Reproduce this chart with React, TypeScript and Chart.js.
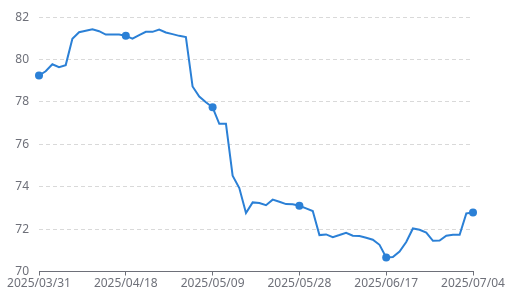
import React, { useEffect, useRef } from "react";
import { Chart, registerables } from "chart.js";

Chart.register(...registerables);

const dates: string[] = [
  "2025/03/31", "2025/04/01", "2025/04/02", "2025/04/03", "2025/04/07", "2025/04/08", "2025/04/09",
  "2025/04/10", "2025/04/11", "2025/04/14", "2025/04/15", "2025/04/16", "2025/04/17", "2025/04/18",
  "2025/04/21", "2025/04/22", "2025/04/23", "2025/04/24", "2025/04/25", "2025/04/28", "2025/04/29",
  "2025/04/30", "2025/05/05", "2025/05/06", "2025/05/07", "2025/05/08", "2025/05/09",
  "2025/05/12", "2025/05/13", "2025/05/14", "2025/05/15", "2025/05/16", "2025/05/19", "2025/05/20",
  "2025/05/21", "2025/05/22", "2025/05/23", "2025/05/26", "2025/05/27", "2025/05/28",
  "2025/05/29", "2025/05/30", "2025/06/03", "2025/06/04", "2025/06/05", "2025/06/06", "2025/06/09",
  "2025/06/10", "2025/06/11", "2025/06/12", "2025/06/13", "2025/06/16", "2025/06/17",
  "2025/06/18", "2025/06/19", "2025/06/20", "2025/06/23", "2025/06/24", "2025/06/25", "2025/06/26",
  "2025/06/27", "2025/06/30", "2025/07/01", "2025/07/02", "2025/07/03", "2025/07/04",
];

const values: number[] = [
  79.25, 79.45, 79.78, 79.64, 79.74, 80.98, 81.29, 81.36, 81.43, 81.34, 81.18, 81.18, 81.18, 81.12,
  80.99, 81.15, 81.31, 81.31, 81.42, 81.28, 81.2, 81.12, 81.06, 78.73, 78.26, 77.99, 77.75,
  76.97, 76.97, 74.52, 73.94, 72.76, 73.26, 73.23, 73.13, 73.39, 73.29, 73.18, 73.17, 73.1,
  72.98, 72.85, 71.72, 71.75, 71.62, 71.72, 71.83, 71.69, 71.67, 71.59, 71.5, 71.26, 70.66,
  70.68, 70.94, 71.39, 72.03, 71.97, 71.84, 71.45, 71.46, 71.69, 71.73, 71.73, 72.74, 72.79,
];

const yTicks: number[] = [70, 72, 74, 76, 78, 80, 82];
const labelEvery = 13;

const LINE = "#2b80d6";
const TEXT = "#6e7079";
const GRID = "#d9d9d9";

export default function App() {
  const ref = useRef<HTMLCanvasElement | null>(null);
  useEffect(() => {
    if (!ref.current) return;
    const chart = new Chart(ref.current, {
      type: "line",
      data: {
        labels: dates,
        datasets: [
          {
            data: values,
            borderColor: LINE,
            backgroundColor: LINE,
            borderWidth: 2,
            tension: 0,
            pointRadius: values.map((_, i) => (i % labelEvery === 0 ? 4 : 0)),
            pointHoverRadius: 4,
            pointBorderWidth: 0,
          },
        ],
      },
      options: {
        animation: false,
        responsive: false,
        maintainAspectRatio: false,
        layout: { padding: { left: 0, right: 41, top: 17, bottom: 0 } },
        plugins: { legend: { display: false }, tooltip: { enabled: false } },
        scales: {
          x: {
            type: "category",
            offset: false,
            afterFit: (s: any) => {
              s.height = 27.5;
            },
            border: { display: true, color: TEXT, width: 1 },
            grid: {
              display: true,
              drawOnChartArea: false,
              drawTicks: true,
              tickLength: 4,
              color: (ctx: any) => (ctx.index % labelEvery === 0 ? TEXT : "rgba(0,0,0,0)"),
            },
            ticks: {
              autoSkip: false,
              maxRotation: 0,
              minRotation: 0,
              padding: 1,
              color: TEXT,
              font: { family: "'Noto Sans', sans-serif", size: 12 },
              callback: (_v: any, i: number) => (i % labelEvery === 0 ? dates[i] : ""),
            },
          },
          y: {
            min: yTicks[0],
            max: yTicks[yTicks.length - 1],
            afterFit: (s: any) => {
              s.width = 39;
            },
            afterBuildTicks: (s: any) => {
              s.ticks = yTicks.map((v) => ({ value: v }));
            },
            border: { display: false, dash: [4, 3] },
            grid: {
              color: (ctx: any) => (ctx.tick && ctx.tick.value === yTicks[0] ? "rgba(0,0,0,0)" : GRID),
              drawTicks: false,
              lineWidth: 1,
            },
            ticks: {
              padding: 10,
              color: TEXT,
              font: { family: "'Noto Sans', sans-serif", size: 12 },
            },
          },
        },
      },
    });
    return () => chart.destroy();
  }, []);
  return (
    <div style={{ position: "absolute", left: 0, top: 0, width: 514, height: 299 }}>
      <canvas ref={ref} width={514} height={299} style={{ width: 514, height: 299 }} />
    </div>
  );
}
